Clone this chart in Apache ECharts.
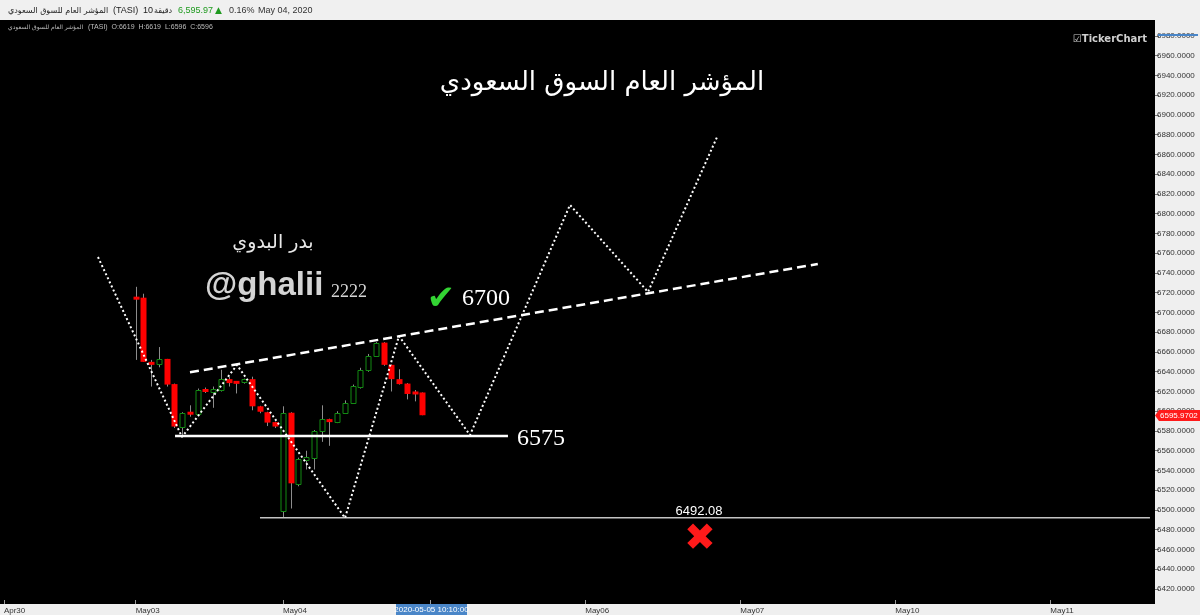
<!DOCTYPE html>
<html><head><meta charset="utf-8">
<script src="https://cdn.jsdelivr.net/npm/echarts@6/dist/echarts.min.js"></script>
<style>html,body{margin:0;padding:0;background:#efefef;}#c{width:1200px;height:615px;}</style>
</head><body><div id="c"></div>
<script>
// ---- axis data ----
const dayTickIndex  = [0, 17, 36, 55, 75, 95, 115, 135];
const dayTickLabels = ['Apr30', 'May03', 'May04', '', 'May06', 'May07', 'May10', 'May11'];
const yTicks = [6420,6440,6460,6480,6500,6520,6540,6560,6580,6600,6620,6640,6660,6680,6700,
                6720,6740,6760,6780,6800,6820,6840,6860,6880,6900,6920,6940,6960,6980];

// ---- 10-minute candles (slot index, open, high, low, close) ----
const candleSlot = [17,18,19,20,21,22,23,24,25,26,27,28,29,30,31,32,33,34,35,
                    36,37,38,39,40,41,42,43,44,45,46,47,48,49,50,51,52,53,54];
const opens  = [6715,6715,6650,6647.5,6653,6627.5,6584.5,6598.5,6598,6622,6620,6621,6632.5,6629.5,6629.5,6632.5,6605,6599,6589,
                6499.5,6598.5,6526,6551.5,6552.5,6579.5,6592,6589.5,6598.5,6608.5,6625,6642,6656,6669.5,6647,6632.5,6628,6619,6619];
const highs  = [6726,6719,6652,6665,6653,6628,6599,6606,6623,6624,6625,6642,6635,6630,6633,6635,6605.5,6599.5,6589.5,
                6605,6599,6553,6560,6581,6606,6592.5,6600,6611,6627,6644,6658,6670,6670,6647.5,6642.5,6628.5,6621.5,6619];
const lows   = [6652,6650,6625,6644.5,6625,6583,6576,6594.5,6597,6618.5,6603.5,6620,6625,6618,6628,6601,6598,6585,6583,
                6492.08,6501.5,6524,6541,6541,6569,6565,6588,6598,6608,6623,6640,6655.5,6646,6620,6627,6612,6610,6595.97];
const closes = [6714,6650,6647,6652.5,6627,6584.5,6598.5,6597.5,6622,6620,6621,6632.5,6628.5,6629,6632.5,6605,6599.5,6588.5,6584.5,
                6598.5,6527,6551.5,6552.5,6580,6592,6589,6598.5,6608.5,6625.5,6642,6656,6669.5,6647,6632.5,6627.5,6617.5,6618,6595.97];

// ---- drawn annotations (slot index, price) ----
const zigzagSlots  = [12.14, 22.98, 30.07, 44.01, 50.97, 60.13, 73.03, 83.1, 92.0];
const zigzagPrices = [6756.2, 6573.9, 6646.8, 6491.9, 6676.2, 6575.9, 6808.9, 6720.8, 6877.7];
const trendSlots   = [24.01, 105.0];
const trendPrices  = [6639.4, 6749.1];
const supportSlots = [22.08, 65.03];
const supportLevel = 6575;
const lowSlots     = [33.04, 147.85];
const lowLevel     = 6492.08;
const lastPrice    = 6595.9702;

const candles = candleSlot.map((s, k) => [s, opens[k], closes[k], lows[k], highs[k]]);
const pairs = (xs, ys) => xs.map((x, k) => [x, Array.isArray(ys) ? ys[k] : ys]);

function renderCandle(params, api) {
  const i = api.value(0), o = api.value(1), c = api.value(2), l = api.value(3), h = api.value(4);
  const pO = api.coord([i, o]), pC = api.coord([i, c]), pL = api.coord([i, l]), pH = api.coord([i, h]);
  const cx = Math.round(pO[0]) + 0.5;
  const up = c >= o;
  let top = Math.min(pO[1], pC[1]), bot = Math.max(pO[1], pC[1]);
  if (bot - top < 3) { const m = (top + bot) / 2; top = m - 1.5; bot = m + 1.5; }
  return {
    type: 'group',
    children: [
      { type: 'line', shape: { x1: cx, y1: pH[1], x2: cx, y2: pL[1] }, style: { stroke: '#8c8c8c', lineWidth: 1 } },
      up ? { type: 'rect', shape: { x: cx - 2.5, y: Math.round(top) + 0.5, width: 5, height: Math.round(bot - top) },
             style: { fill: '#000', stroke: '#138a13', lineWidth: 1 } }
         : { type: 'rect', shape: { x: cx - 3, y: top, width: 6, height: bot - top },
             style: { fill: '#ff0000', stroke: null } }
    ]
  };
}

const chart = echarts.init(document.getElementById('c'), null, { renderer: 'canvas' });
const AR = '"DejaVu Sans", sans-serif';
chart.setOption({
  animation: false,
  backgroundColor: '#efefef',
  grid: { left: 0, right: 45, top: 20, bottom: 11, show: true, backgroundColor: '#000', borderWidth: 0 },
  xAxis: {
    type: 'value', min: -0.5, max: 148.5, position: 'bottom',
    axisLine: { show: false, onZero: false }, splitLine: { show: false },
    axisTick: { show: true, inside: true, length: 4, customValues: dayTickIndex, lineStyle: { color: '#9a9a9a' } },
    axisLabel: { customValues: dayTickIndex, align: 'left', margin: 3, fontSize: 8, color: '#333',
                 fontFamily: 'Liberation Sans',
                 formatter: v => dayTickLabels[dayTickIndex.indexOf(Math.round(v))] || '' }
  },
  yAxis: {
    type: 'value', position: 'right', min: 6404.8, max: 6996.2,
    axisLine: { show: false, onZero: false }, splitLine: { show: false },
    axisTick: { show: true, length: 4, customValues: yTicks, lineStyle: { color: '#777' } },
    axisLabel: { customValues: yTicks, margin: 2, fontSize: 8, color: '#333', fontFamily: 'Liberation Sans',
                 formatter: v => v.toFixed(4) }
  },
  series: [
    { type: 'line', data: pairs(lowSlots, lowLevel), symbol: 'none', silent: true,
      lineStyle: { color: '#c4c4c4', width: 1.5 } },
    { type: 'custom', renderItem: renderCandle, data: candles, encode: { x: 0, y: [1, 2, 3, 4] }, silent: true },
    { type: 'line', data: pairs(supportSlots, supportLevel), symbol: 'none', silent: true,
      lineStyle: { color: '#ffffff', width: 2.5 } },
    { type: 'line', data: pairs(trendSlots, trendPrices), symbol: 'none', silent: true,
      lineStyle: { color: '#ffffff', width: 2.5, type: [9, 5] } },
    { type: 'line', data: pairs(zigzagSlots, zigzagPrices), symbol: 'none', silent: true,
      lineStyle: { color: '#ffffff', width: 2, type: [2, 2.5] } }
  ],
  graphic: [
    // header
    { type: 'rect', shape: { x: 0, y: 0, width: 1200, height: 20 }, style: { fill: '#f0f0f0' }, z: 10 },
    { type: 'text', x: 8, y: 11, z: 11, style: { text: 'المؤشر العام للسوق السعودي', font: '8px ' + AR, fill: '#222', verticalAlign: 'middle' } },
    { type: 'text', x: 113, y: 11, z: 11, style: { text: '(TASI)', font: '9px "Liberation Sans"', fill: '#222', verticalAlign: 'middle' } },
    { type: 'text', x: 143, y: 11, z: 11, style: { text: '10', font: '9px "Liberation Sans"', fill: '#222', verticalAlign: 'middle' } },
    { type: 'text', x: 154, y: 11, z: 11, style: { text: 'دقيقة', font: '8px ' + AR, fill: '#222', verticalAlign: 'middle' } },
    { type: 'text', x: 178, y: 11, z: 11, style: { text: '6,595.97', font: '9px "Liberation Sans"', fill: '#1f9a1f', verticalAlign: 'middle' } },
    { type: 'text', x: 215, y: 11, z: 11, style: { text: '▲', font: '9px "DejaVu Sans"', fill: '#1f9a1f', verticalAlign: 'middle' } },
    { type: 'text', x: 229, y: 11, z: 11, style: { text: '0.16%', font: '9px "Liberation Sans"', fill: '#333', verticalAlign: 'middle' } },
    { type: 'text', x: 258, y: 11, z: 11, style: { text: 'May 04, 2020', font: '9px "Liberation Sans"', fill: '#333', verticalAlign: 'middle' } },
    { type: 'text', x: 8, y: 27, z: 11, style: { text: 'المؤشر العام للسوق السعودي', font: '6px ' + AR, fill: '#bdbdbd', verticalAlign: 'middle' } },
    { type: 'text', x: 88, y: 27, z: 11, style: { text: '(TASI)  O:6619  H:6619  L:6596  C:6596', font: '7px "Liberation Sans"', fill: '#bdbdbd', verticalAlign: 'middle' } },
    // logo
    { type: 'text', x: 1147, y: 39, z: 11, style: { text: '☑TickerChart', font: 'bold 10px "DejaVu Sans"', fill: '#d0d0d0', align: 'right', verticalAlign: 'middle' } },
    // right axis markers
    { type: 'rect', shape: { x: 1158, y: 34, width: 40, height: 2 }, style: { fill: '#4a86c8' }, z: 11 },
    { type: 'polygon', shape: { points: [[1155, 415.5], [1159, 410], [1200, 410], [1200, 421], [1159, 421]] }, style: { fill: '#ff1a1a' }, z: 11 },
    { type: 'text', x: 1160, y: 416, z: 12, style: { text: '6595.9702', font: '8px "Liberation Sans"', fill: '#fff', verticalAlign: 'middle' } },
    // bottom crosshair label
    { type: 'rect', shape: { x: 396, y: 604, width: 71, height: 11 }, style: { fill: '#4a86c8' }, z: 11 },
    { type: 'text', x: 431.5, y: 609.5, z: 12, style: { text: '2020-05-05 10:10:00', font: '8px "Liberation Sans"', fill: '#fff', align: 'center', verticalAlign: 'middle' } },
    // title & signature
    { type: 'text', x: 602, y: 83, z: 11, style: { text: 'المؤشر العام السوق السعودي', font: '26px ' + AR, fill: '#fff', align: 'center', verticalAlign: 'middle' } },
    { type: 'text', x: 273, y: 243, z: 11, style: { text: 'بدر البدوي', font: '19px ' + AR, fill: '#e8e8e8', align: 'center', verticalAlign: 'middle' } },
    { type: 'text', x: 205, y: 286, z: 11, style: { text: '@ghalii', font: 'bold 33px "Liberation Sans"', fill: '#d4d4d4', verticalAlign: 'middle' } },
    { type: 'text', x: 331, y: 292, z: 11, style: { text: '2222', font: '18px "Liberation Serif"', fill: '#d4d4d4', verticalAlign: 'middle' } },
    // level annotations
    { type: 'text', x: 441, y: 300, z: 11, style: { text: '✔', font: '34px "DejaVu Sans"', fill: '#33d433', align: 'center', verticalAlign: 'middle' } },
    { type: 'text', x: 462, y: 299, z: 11, style: { text: '6700', font: '24px "Liberation Serif"', fill: '#fff', verticalAlign: 'middle' } },
    { type: 'text', x: 517, y: 439, z: 11, style: { text: '6575', font: '24px "Liberation Serif"', fill: '#fff', verticalAlign: 'middle' } },
    { type: 'text', x: 699, y: 511, z: 11, style: { text: '6492.08', font: '13px "Liberation Sans"', fill: '#fff', align: 'center', verticalAlign: 'middle' } },
    { type: 'text', x: 700, y: 540, z: 11, style: { text: '✖', font: '38px "DejaVu Sans"', fill: '#ff1a1a', align: 'center', verticalAlign: 'middle' } }
  ]
});
</script>
</body></html>
